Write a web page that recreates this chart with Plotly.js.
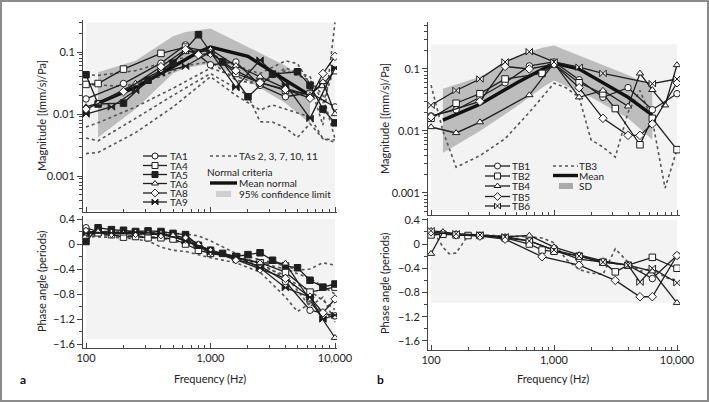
<!DOCTYPE html>
<html><head><meta charset="utf-8">
<script src="https://cdn.plot.ly/plotly-3.0.1.min.js"></script>
<style>html,body{margin:0;padding:0;background:#fff}#chart{width:709px;height:402px}</style>
</head><body><div id="chart"></div>
<script>
// ---------- tick labels ----------
const freqTickVals = [100, 1000, 10000];
const freqTickText = ['100', '1,000', '10,000'];
const magTickVals = [0.001, 0.01, 0.1];
const magTickText = ['0.001', '0.01', '0.1'];
const phaseTickVals = [0.4, 0, -0.4, -0.8, -1.2, -1.6];
const phaseTickText = ['0.4', '0', '\u22120.4', '\u22120.8', '\u22121.2', '\u22121.6'];

// ---------- panel a : magnitude ----------
const TA1_f = [100,200,400,630,1000,1600,2500,4000,6300,10000];
const TA1_m = [0.0175,0.031,0.066,0.13,0.062,0.069,0.029,0.019,0.022,0.013];
const TA4_f = [100,125,200,400,630,1000,1600,2500,4000,6300,8000,10000];
const TA4_m = [0.030,0.031,0.053,0.095,0.12,0.1,0.045,0.032,0.024,0.021,0.03,0.05];
const TA5_f = [100,125,200,315,500,800,1000,1250,2000,3150,5000,6300,8000,10000];
const TA5_m = [0.043,0.0145,0.015,0.035,0.066,0.19,0.1,0.069,0.019,0.044,0.048,0.029,0.012,0.0072];
const TA6_f = [100,125,250,400,630,1000,1600,2500,4000,6300,8000,10000];
const TA6_m = [0.013,0.015,0.031,0.05,0.1,0.11,0.06,0.04,0.026,0.02,0.033,0.01];
const TA8_f = [100,200,400,630,800,1000,1600,2500,4000,6300,8000,10000];
const TA8_m = [0.012,0.023,0.058,0.11,0.09,0.095,0.05,0.032,0.025,0.018,0.045,0.085];
const TA9_f = [100,160,250,400,630,1000,1600,2500,4000,6300,10000];
const TA9_m = [0.01,0.013,0.024,0.046,0.059,0.1,0.027,0.074,0.03,0.0085,0.055];
// dotted TAs 2, 3, 7, 10, 11
const TA2_f = [100,125,250,500,1000,1600,2500,4000,5000,6300,8000,10000];
const TA2_m = [0.043,0.042,0.05,0.075,0.095,0.06,0.045,0.072,0.065,0.03,0.0066,0.3];
const TA3_f = [100,125,250,500,1000,1600,2500,4000,6300,8000,10000];
const TA3_m = [0.0062,0.0072,0.013,0.026,0.055,0.04,0.03,0.05,0.035,0.02,0.004];
const TA7_f = [100,125,250,500,1000,1600,2000,2500,3150,4000,5000,6300,8000,10000];
const TA7_m = [0.0041,0.0037,0.0085,0.02,0.045,0.026,0.02,0.0075,0.0074,0.006,0.0042,0.007,0.004,0.0038];
const TA10_f = [100,125,250,500,1000,1600,2500,3150,4000,6300,8000,10000];
const TA10_m = [0.0023,0.0024,0.005,0.013,0.04,0.02,0.0116,0.014,0.012,0.009,0.004,0.0035];
const TA11_f = [100,200,400,630,1000,1600,2500,4000,6300,8000,10000];
const TA11_m = [0.03,0.028,0.04,0.06,0.07,0.035,0.03,0.055,0.04,0.015,0.06];
// normal criteria
const normMean_f = [125,250,500,800,1000,2000,4000,6300];
const normMean_m = [0.015,0.027,0.058,0.1,0.12,0.085,0.035,0.02];
const normCI_f = [125,250,500,630,1000,2000,4000,6300];
const normCI_hi = [0.047,0.072,0.18,0.21,0.24,0.12,0.06,0.03];
const normCI_lo = [0.0042,0.012,0.045,0.055,0.065,0.034,0.015,0.007];

// ---------- panel a : phase ----------
const TA1_pf = [100,125,160,200,250,315,400,500,630,800,1000,1600,2500,4000,6300,10000];
const TA1_p = [0.26,0.2,0.18,0.17,0.16,0.16,0.15,0.12,0.05,-0.02,-0.1,-0.25,-0.35,-0.6,-1.06,-1.15];
const TA4_pf = [100,125,160,200,250,315,400,500,630,800,1000,1600,2500,4000,6300,10000];
const TA4_p = [0.2,0.18,0.15,0.11,0.12,0.1,0.1,0.08,0.0,-0.1,-0.15,-0.22,-0.3,-0.45,-0.77,-0.69];
const TA5_pf = [100,125,160,200,250,315,400,500,630,800,1000,1250,1600,2000,2500,3150,4000,5000,6300,8000,10000];
const TA5_p = [0.04,0.26,0.23,0.22,0.2,0.21,0.2,0.17,0.15,-0.02,-0.1,-0.15,-0.2,-0.17,-0.14,-0.26,-0.35,-0.38,-0.58,-0.69,-0.64];
const TA6_pf = [100,125,160,200,250,315,400,500,630,800,1000,1600,2500,4000,6300,10000];
const TA6_p = [0.18,0.2,0.18,0.17,0.16,0.17,0.16,0.14,0.1,0.0,-0.12,-0.22,-0.3,-0.31,-0.9,-1.5];
const TA8_pf = [100,160,250,400,630,1000,1600,2500,4000,6300,8000,10000];
const TA8_p = [0.2,0.17,0.17,0.15,0.08,-0.12,-0.25,-0.4,-0.55,-0.85,-1.1,-0.88];
const TA9_pf = [100,160,250,400,630,1000,1600,2500,4000,6300,8000,10000];
const TA9_p = [0.17,0.18,0.19,0.17,0.05,-0.13,-0.2,-0.38,-0.7,-0.85,-1.2,-1.14];
const TA2_pf = [100,250,400,630,800,1000,1600,2500,4000,5000,6300,8000,10000];
const TA2_p = [0.18,0.18,0.18,0.16,0.13,0.05,-0.15,-0.25,-0.35,-0.42,-0.4,-0.3,-0.34];
const TA3_pf = [100,200,315,400,500,630,1000,1600,2500,4000,5000,6300,8000,10000];
const TA3_p = [0.12,0.1,0.05,-0.05,-0.1,-0.12,-0.22,-0.3,-0.45,-0.85,-1.08,-0.95,-1.1,-1.2];
const TA7_pf = [100,200,400,630,1000,1600,2500,4000,6300,10000];
const TA7_p = [0.16,0.14,0.1,0.02,-0.12,-0.25,-0.3,-0.55,-0.75,-1.05];
const TA10_pf = [100,200,400,630,1000,1600,2500,4000,6300,10000];
const TA10_p = [0.2,0.2,0.17,0.08,-0.15,-0.2,-0.3,-0.4,-0.55,-0.8];
const TA11_pf = [100,250,400,630,1000,1600,2500,4000,6300,8000,10000];
const TA11_p = [0.15,0.12,0.1,0.0,-0.14,-0.22,-0.35,-0.5,-1.0,-0.85,-1.25];

// ---------- panel b : magnitude ----------
const TB1_f = [100,160,250,400,630,1000,1600,2500,4000,6300,10000];
const TB1_m = [0.0175,0.022,0.035,0.06,0.112,0.13,0.067,0.035,0.05,0.022,0.04];
const TB2_f = [100,160,250,400,800,1000,1600,2500,3150,5000,6300,10000];
const TB2_m = [0.016,0.028,0.04,0.069,0.085,0.12,0.06,0.04,0.023,0.006,0.016,0.005];
const TB4_f = [100,160,250,630,1000,1600,2500,4000,5000,6300,8000,10000];
const TB4_m = [0.0116,0.0093,0.0139,0.038,0.125,0.035,0.045,0.025,0.085,0.046,0.026,0.116];
const TB5_f = [100,250,400,630,1000,1600,2500,4000,5000,6300,10000];
const TB5_m = [0.017,0.03,0.11,0.1,0.12,0.05,0.016,0.0085,0.0085,0.013,0.06];
const TB6_f = [100,160,250,400,630,1000,1600,2500,6300,10000];
const TB6_m = [0.026,0.045,0.069,0.13,0.19,0.13,0.107,0.085,0.058,0.069];
const TB3_f = [100,125,160,250,400,630,1000,1250,1600,2000,2500,3150,4000,5000,6300,8000,10000];
const TB3_m = [0.055,0.01,0.0026,0.004,0.0075,0.02,0.059,0.05,0.035,0.0072,0.0055,0.0038,0.02,0.045,0.015,0.0012,0.005];
const tbMean_f = [125,250,500,800,1000,1600,2500,4000,6300];
const tbMean_m = [0.015,0.027,0.06,0.1,0.125,0.1,0.06,0.035,0.018];
const tbSD_f = [125,250,500,800,1000,2000,4000,6300];
const tbSD_hi = [0.048,0.075,0.16,0.22,0.24,0.14,0.08,0.052];
const tbSD_lo = [0.0044,0.01,0.025,0.05,0.065,0.035,0.016,0.0072];

// ---------- panel b : phase ----------
const TB1_pf = [100,160,250,400,630,1000,1600,2500,4000,6300,10000];
const TB1_p = [0.17,0.16,0.14,0.1,0.05,-0.1,-0.25,-0.3,-0.35,-0.57,-0.19];
const TB2_pf = [100,125,160,200,250,400,630,800,1000,1600,2500,3150,4000,6300,10000];
const TB2_p = [0.15,0.16,0.15,0.14,0.14,0.1,0.0,-0.1,-0.12,-0.2,-0.3,-0.46,-0.35,-0.22,-0.4];
const TB4_pf = [100,125,160,250,400,630,1000,1600,2500,4000,6300,10000];
const TB4_p = [-0.16,0.2,0.16,0.14,0.12,0.14,-0.05,-0.18,-0.28,-0.35,-0.45,-0.97];
const TB5_pf = [100,160,250,400,800,1600,3150,5000,6300,10000];
const TB5_p = [0.2,0.15,0.13,0.08,-0.21,-0.35,-0.6,-0.87,-0.87,-0.19];
const TB6_pf = [100,160,250,400,630,1000,1600,2500,4000,5000,6300,10000];
const TB6_p = [0.22,0.17,0.15,0.12,0.05,-0.1,-0.2,-0.3,-0.35,-0.63,-0.4,-0.64];
const TB3_pf = [100,125,140,160,200,250,400,630,800,1000,1250,1600,2000,2500,3150,4000,5000,6300,8000,10000];
const TB3_p = [0.27,-0.05,-0.16,-0.15,0.14,0.15,0.13,0.12,0.1,0.02,-0.25,-0.42,-0.48,-0.5,-0.08,-0.3,-0.45,-0.4,-0.55,-0.6];

// ---------- legend labels ----------
const legA_names = ['TA1','TA4','TA5','TA6','TA8','TA9'];
const legB_names = ['TB1','TB2','TB4','TB5','TB6'];

// ================= drawing =================
const INK = '#1e1e1e';
const FONT = 'Lato, "Open Sans", sans-serif';
const MK = {
  circle: {symbol:'circle', color:'#fff', size:6.5},
  square: {symbol:'square', color:'#fff', size:6.5},
  squareF: {symbol:'square', color:INK, size:6.5},
  tri: {symbol:'triangle-up', color:'#fff', size:6.5},
  diam: {symbol:'diamond', color:'#fff', size:6.5},
  bowF: {symbol:'bowtie', color:INK, size:6.5},
  bowO: {symbol:'bowtie', color:'#fff', size:6.5}
};
function solid(f, v, xa, ya, mk) {
  return {x:f, y:v, xaxis:xa, yaxis:ya, mode:'lines+markers', showlegend:false, hoverinfo:'skip',
    line:{color:INK, width:1.3},
    marker:{symbol:mk.symbol, size:mk.size, color:mk.color, line:{color:INK, width:1}}};
}
function dotted(f, v, xa, ya) {
  return {x:f, y:v, xaxis:xa, yaxis:ya, mode:'lines', showlegend:false, hoverinfo:'skip',
    line:{color:'#555', width:1.6, dash:'dot'}};
}
function thick(f, v, xa, ya) {
  return {x:f, y:v, xaxis:xa, yaxis:ya, mode:'lines', showlegend:false, hoverinfo:'skip',
    line:{color:'#111', width:3.4}};
}
function band(f, hi, lo, xa, ya, col) {
  return {x:f.concat(f.slice().reverse()), y:hi.concat(lo.slice().reverse()), xaxis:xa, yaxis:ya,
    mode:'lines', fill:'toself', fillcolor:col, line:{width:0, color:col}, showlegend:false, hoverinfo:'skip'};
}

const traces = [];
// panel a magnitude
traces.push(band(normCI_f, normCI_hi, normCI_lo, 'x', 'y', '#bdbdbd'));
[[TA2_f,TA2_m],[TA3_f,TA3_m],[TA7_f,TA7_m],[TA10_f,TA10_m],[TA11_f,TA11_m]].forEach(d => traces.push(dotted(d[0], d[1], 'x', 'y')));
traces.push(thick(normMean_f, normMean_m, 'x', 'y'));
traces.push(solid(TA1_f, TA1_m, 'x', 'y', MK.circle));
traces.push(solid(TA4_f, TA4_m, 'x', 'y', MK.square));
traces.push(solid(TA5_f, TA5_m, 'x', 'y', MK.squareF));
traces.push(solid(TA6_f, TA6_m, 'x', 'y', MK.tri));
traces.push(solid(TA8_f, TA8_m, 'x', 'y', MK.diam));
traces.push(solid(TA9_f, TA9_m, 'x', 'y', MK.bowF));
// panel a phase
[[TA2_pf,TA2_p],[TA3_pf,TA3_p],[TA7_pf,TA7_p],[TA10_pf,TA10_p],[TA11_pf,TA11_p]].forEach(d => traces.push(dotted(d[0], d[1], 'x2', 'y2')));
traces.push(solid(TA1_pf, TA1_p, 'x2', 'y2', MK.circle));
traces.push(solid(TA4_pf, TA4_p, 'x2', 'y2', MK.square));
traces.push(solid(TA5_pf, TA5_p, 'x2', 'y2', MK.squareF));
traces.push(solid(TA6_pf, TA6_p, 'x2', 'y2', MK.tri));
traces.push(solid(TA8_pf, TA8_p, 'x2', 'y2', MK.diam));
traces.push(solid(TA9_pf, TA9_p, 'x2', 'y2', MK.bowF));
// panel b magnitude
traces.push(band(tbSD_f, tbSD_hi, tbSD_lo, 'x3', 'y3', '#bdbdbd'));
traces.push(dotted(TB3_f, TB3_m, 'x3', 'y3'));
traces.push(thick(tbMean_f, tbMean_m, 'x3', 'y3'));
traces.push(solid(TB1_f, TB1_m, 'x3', 'y3', MK.circle));
traces.push(solid(TB2_f, TB2_m, 'x3', 'y3', MK.square));
traces.push(solid(TB4_f, TB4_m, 'x3', 'y3', MK.tri));
traces.push(solid(TB5_f, TB5_m, 'x3', 'y3', MK.diam));
traces.push(solid(TB6_f, TB6_m, 'x3', 'y3', MK.bowO));
// panel b phase
traces.push(dotted(TB3_pf, TB3_p, 'x4', 'y4'));
traces.push(solid(TB1_pf, TB1_p, 'x4', 'y4', MK.circle));
traces.push(solid(TB2_pf, TB2_p, 'x4', 'y4', MK.square));
traces.push(solid(TB4_pf, TB4_p, 'x4', 'y4', MK.tri));
traces.push(solid(TB5_pf, TB5_p, 'x4', 'y4', MK.diam));
traces.push(solid(TB6_pf, TB6_p, 'x4', 'y4', MK.bowO));

// ---------- legends (pixel overlay axis x5/y5) ----------
const annotations = [];
const shapes = [];
const LEGFONT = {family:FONT, size:10, color:'#222'};
function legText(x, y, t) {
  annotations.push({xref:'x5', yref:'y5', x:x, y:y, text:t, showarrow:false, xanchor:'left', yanchor:'middle',
    font:LEGFONT, borderpad:0});
}
function legSample(x0, x1, y, mk) {
  traces.push({x:[x0, x1], y:[y, y], xaxis:'x5', yaxis:'y5', mode:'lines', showlegend:false, hoverinfo:'skip',
    line:{color:INK, width:1.3}});
  traces.push({x:[(x0 + x1) / 2], y:[y], xaxis:'x5', yaxis:'y5', mode:'markers', showlegend:false, hoverinfo:'skip',
    marker:{symbol:mk.symbol, size:6, color:mk.color, line:{color:INK, width:1}}});
}
const legA_mk = [MK.circle, MK.square, MK.squareF, MK.tri, MK.diam, MK.bowF];
const legA_y = [156, 165.5, 174.5, 183.5, 193, 202];
legA_names.forEach((n, i) => { legSample(143, 167, legA_y[i], legA_mk[i]); legText(169, legA_y[i], n); });
traces.push({x:[210, 237], y:[156, 156], xaxis:'x5', yaxis:'y5', mode:'lines', showlegend:false, hoverinfo:'skip',
  line:{color:'#555', width:1.6, dash:'dot'}});
legText(238, 156, 'TAs 2, 3, 7, 10, 11');
legText(206, 172, 'Normal criteria');
traces.push({x:[210, 237], y:[183, 183], xaxis:'x5', yaxis:'y5', mode:'lines', showlegend:false, hoverinfo:'skip',
  line:{color:'#111', width:3.4}});
legText(238, 183, 'Mean normal');
shapes.push({type:'rect', xref:'x5', yref:'y5', x0:216, x1:231, y0:191, y1:197, fillcolor:'#cfcfcf', line:{width:0}});
legText(238, 194, '95% confidence limit');

const legB_mk = [MK.circle, MK.square, MK.tri, MK.diam, MK.bowO];
const legB_y = [166, 176, 186, 196.5, 206];
legB_names.forEach((n, i) => { legSample(485, 510, legB_y[i], legB_mk[i]); legText(511, legB_y[i], n); });
traces.push({x:[553, 578], y:[166, 166], xaxis:'x5', yaxis:'y5', mode:'lines', showlegend:false, hoverinfo:'skip',
  line:{color:'#555', width:1.6, dash:'dot'}});
legText(578, 166, 'TB3');
traces.push({x:[553, 578], y:[175.5, 175.5], xaxis:'x5', yaxis:'y5', mode:'lines', showlegend:false, hoverinfo:'skip',
  line:{color:'#111', width:3.4}});
legText(578, 176, 'Mean');
shapes.push({type:'rect', xref:'x5', yref:'y5', x0:559, x1:573, y0:183, y1:189, fillcolor:'#a9a9a9', line:{width:0}});
legText(578, 186, 'SD');

// axis titles, panel letters
function txt(x, y, t, opt) {
  annotations.push(Object.assign({xref:'x5', yref:'y5', x:x, y:y, text:t, showarrow:false,
    font:{family:FONT, size:11, color:'#222'}}, opt || {}));
}
txt(41, 116, 'Magnitude [(mm/s)/Pa]', {textangle:-90});
txt(41, 282, 'Phase angle (periods)', {textangle:-90});
txt(384, 119, 'Magnitude [(mm/s)/Pa]', {textangle:-90});
txt(384, 284, 'Phase angle (periods)', {textangle:-90});
txt(210, 378, 'Frequency (Hz)');
txt(553, 378, 'Frequency (Hz)');
txt(23, 379, '<b>a</b>', {font:{family:FONT, size:12, color:'#111'}});
txt(380, 379, '<b>b</b>', {font:{family:FONT, size:12, color:'#111'}});

// background panels
const BG = '#f3f3f3';
shapes.push({type:'rect', xref:'x', yref:'y', x0:100, x1:10000, y0:0.00028, y1:0.3, fillcolor:BG, line:{width:0}, layer:'below'});
shapes.push({type:'rect', xref:'x2', yref:'y2', x0:100, x1:10000, y0:-1.52, y1:0.4, fillcolor:BG, line:{width:0}, layer:'below'});
shapes.push({type:'rect', xref:'x3', yref:'y3', x0:100, x1:10000, y0:0.0005, y1:0.25, fillcolor:BG, line:{width:0}, layer:'below'});
shapes.push({type:'rect', xref:'x4', yref:'y4', x0:100, x1:10000, y0:-0.97, y1:0.4, fillcolor:BG, line:{width:0}, layer:'below'});
// outer frame
shapes.push({type:'rect', xref:'paper', yref:'paper', x0:0.0014, x1:0.9986, y0:0.0025, y1:0.9975, line:{color:'#8c8c8c', width:2}});

// ---------- axes ----------
const minorLog = [];
[100, 1000].forEach(d => { for (let k = 2; k <= 9; k++) minorLog.push(d * k); });
const minorMag = [];
[0.0001, 0.001, 0.01, 0.1].forEach(d => { for (let k = 2; k <= 9; k++) minorMag.push(d * k); });
const minorPhase = [0.2, -0.2, -0.6, -1.0, -1.4];
const tickFont = {family:FONT, size:11, color:'#222'};
function xax(dom, rng, anchor, labels) {
  return {type:'log', domain:dom, range:rng, anchor:anchor, showgrid:false, zeroline:false,
    showline:true, linecolor:'#444', linewidth:1, ticks:'inside', ticklen:5, tickcolor:'#444',
    tickmode:'array', tickvals:freqTickVals, ticktext:freqTickText, showticklabels:labels, tickfont:tickFont,
    minor:{tickmode:'array', tickvals:minorLog, ticks:'inside', ticklen:3, tickcolor:'#444', showgrid:false}};
}
function magax(dom, rng, anchor) {
  return {type:'log', domain:dom, range:rng, anchor:anchor, showgrid:false, zeroline:false,
    showline:true, linecolor:'#444', linewidth:1, ticks:'outside', ticklen:5, tickcolor:'#444',
    tickmode:'array', tickvals:magTickVals, ticktext:magTickText, tickfont:tickFont,
    minor:{tickmode:'array', tickvals:minorMag, ticks:'outside', ticklen:3, tickcolor:'#444', showgrid:false}};
}
function phax(dom, rng, anchor) {
  return {type:'linear', domain:dom, range:rng, anchor:anchor, showgrid:false, zeroline:false,
    showline:true, linecolor:'#444', linewidth:1, ticks:'outside', ticklen:5, tickcolor:'#444',
    tickmode:'array', tickvals:phaseTickVals, ticktext:phaseTickText, tickfont:tickFont,
    minor:{tickmode:'array', tickvals:minorPhase, ticks:'outside', ticklen:3, tickcolor:'#444', showgrid:false}};
}
const W = 709, H = 402;
const dxA = [83 / W, 337 / W], dxB = [428 / W, 680 / W];
const layout = {
  width:W, height:H, margin:{l:0, r:0, t:0, b:0},
  paper_bgcolor:'#fff', plot_bgcolor:'rgba(0,0,0,0)', showlegend:false,
  font:{family:FONT, size:11, color:'#222'},
  xaxis: xax(dxA, [1.9758, 4.0161], 'y', false),
  yaxis: magax([(H - 212) / H, (H - 20) / H], [-3.58, -0.484], 'x'),
  xaxis2: xax(dxA, [1.9758, 4.0161], 'y2', true),
  yaxis2: phax([(H - 348) / H, (H - 216) / H], [-1.664, 0.448], 'x2'),
  xaxis3: xax(dxB, [1.9756, 4.0244], 'y3', false),
  yaxis3: magax([(H - 215) / H, (H - 22) / H], [-3.355, -0.242], 'x3'),
  xaxis4: xax(dxB, [1.9756, 4.0244], 'y4', true),
  yaxis4: phax([(H - 350) / H, (H - 218) / H], [-1.749, 0.429], 'x4'),
  xaxis5: {domain:[0, 1], range:[0, W], anchor:'y5', visible:false, fixedrange:true},
  yaxis5: {domain:[0, 1], range:[H, 0], anchor:'x5', visible:false, fixedrange:true},
  annotations: annotations, shapes: shapes
};
Plotly.newPlot('chart', traces, layout, {staticPlot:true, displayModeBar:false});
</script></body></html>
